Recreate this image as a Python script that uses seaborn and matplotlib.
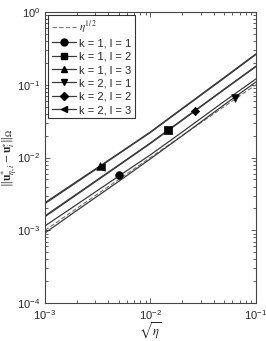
import numpy as np
import pandas as pd
import matplotlib
matplotlib.use('Agg')
import matplotlib.pyplot as plt
from matplotlib.lines import Line2D
import seaborn as sns

# sqrt(eta) grid and error values
sqrt_eta = [1e-3, 2e-3, 5e-3, 1e-2, 2e-2, 5e-2, 1e-1]
ref_half = [1e-3, 2e-3, 5e-3, 1e-2, 2e-2, 5e-2, 1e-1]
err_k1_l1 = [1.15e-3, 2.26e-3, 5.55e-3, 1.09e-2, 2.24e-2, 5.90e-2, 1.20e-1]
err_k1_l2 = [1.58e-3, 3.16e-3, 7.90e-3, 1.59e-2, 3.30e-2, 8.70e-2, 1.80e-1]
err_k1_l3 = [2.40e-3, 4.70e-3, 1.14e-2, 2.25e-2, 4.73e-2, 1.26e-1, 2.65e-1]
err_k2_l1 = [0.92e-3, 1.87e-3, 4.70e-3, 0.96e-2, 1.99e-2, 5.30e-2, 1.09e-1]
err_k2_l2 = [1.54e-3, 3.09e-3, 7.75e-3, 1.56e-2, 3.24e-2, 8.55e-2, 1.77e-1]
err_k2_l3 = [2.33e-3, 4.57e-3, 1.12e-2, 2.21e-2, 4.64e-2, 1.23e-1, 2.60e-1]

# one marker per series
labels = ['k = 1, l = 1', 'k = 1, l = 2', 'k = 1, l = 3',
          'k = 2, l = 1', 'k = 2, l = 2', 'k = 2, l = 3']
mark_x = [5.0e-3, 1.47e-2, 3.3e-3, 6.3e-2, 2.64e-2, 3.4e-3]
mark_y = [5.7e-3, 2.38e-2, 7.6e-3, 6.6e-2, 4.40e-2, 7.5e-3]
markers = ['o', 's', '^', 'v', 'D', '<']
series = [err_k1_l1, err_k1_l2, err_k1_l3, err_k2_l1, err_k2_l2, err_k2_l3]

sns.set_style('ticks')
plt.rcParams['font.family'] = ['Liberation Sans', 'DejaVu Sans']
plt.rcParams['mathtext.fontset'] = 'stix'

fig = plt.figure(figsize=(2.66, 3.41), dpi=100)
ax = fig.add_axes([0.169, 0.111, 0.793, 0.854])

sns.lineplot(x=sqrt_eta, y=ref_half, ax=ax, color='#777777', lw=0.8,
             linestyle=(0, (4, 2)))
for ys in series:
    sns.lineplot(x=sqrt_eta, y=ys, ax=ax, color='#3a3a3a', lw=0.9)

for i in range(6):
    sns.scatterplot(x=[mark_x[i]], y=[mark_y[i]], ax=ax, marker=markers[i],
                    color='black', s=30 if markers[i] != 'D' else 18,
                    edgecolor='black', linewidth=0.5, zorder=5)

ax.set_xscale('log')
ax.set_yscale('log')
ax.set_xlim(1e-3, 1e-1)
ax.set_ylim(1e-4, 1e0)

ax.tick_params(which='both', direction='in', top=True, right=True,
               labelsize=8, width=0.6, color='#444444')
ax.tick_params(which='major', length=3.5)
ax.tick_params(which='minor', length=2)
for sp in ax.spines.values():
    sp.set_linewidth(0.8)
    sp.set_color('#444444')

ax.set_xlabel(r'$\sqrt{\eta}$', fontsize=9)
ax.xaxis.set_label_coords(0.5, -0.06)
ax.set_ylabel(r'$\|\mathbf{u}^{*}_{\eta,i}-\mathbf{u}^{\circ}_{i}\|_{\Omega}$',
              fontsize=8.5)
ax.yaxis.set_label_coords(-0.124, 0.5)

handles = [Line2D([], [], color='#777777', lw=0.8, linestyle=(0, (4, 2)))]
for i in range(6):
    handles.append(Line2D([], [], color='#3a3a3a', lw=0.9, marker=markers[i],
                          markersize=5 if markers[i] != 'D' else 4,
                          markerfacecolor='black', markeredgecolor='black'))
leg = ax.legend(handles, [r'$\eta^{1/2}$'] + labels, loc='upper left',
                fontsize=8, frameon=True, fancybox=False, handlelength=2.2,
                handletextpad=0.3, borderpad=0.3, labelspacing=0.3,
                borderaxespad=0.3, edgecolor='black')
leg.get_frame().set_linewidth(0.8)

fig.savefig('out.png', dpi=100)
